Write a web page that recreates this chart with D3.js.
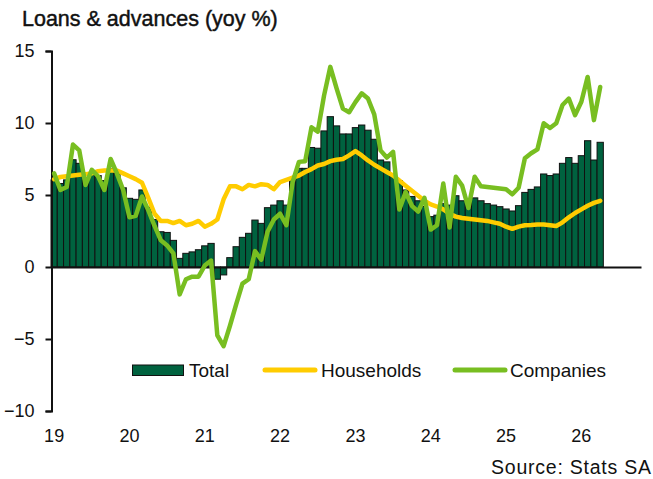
<!DOCTYPE html>
<html>
<head>
<meta charset="utf-8">
<script src="https://cdn.jsdelivr.net/npm/d3@7"></script>
<style>
  html, body { margin: 0; padding: 0; background: #fff; }
  svg { display: block; }
  text { font-family: "Liberation Sans", Arial, sans-serif; fill: #111; }
</style>
</head>
<body>
<svg id="chart" width="653" height="479"></svg>
<script>
// ---- data (monthly, Jan 2019 onward) ----
const startYear = 2019;
const totalSlots = 94; // axis runs to Oct 2026

const total = [
  6.05, 5.8, 6.05, 7.45, 7.2, 6.0, 6.55, 6.35, 6.0, 6.85, 6.5, 5.5,
  4.77, 4.7, 5.35, 4.15, 3.3, 2.45, 2.4, 1.85, 0.6, 0.95, 1.05, 1.2,
  1.47, 1.64, -0.85, -0.55, 0.65, 1.41, 2.06, 2.34, 3.26, 3.03, 4.12, 4.3,
  4.6, 4.3, 6.0, 6.85, 6.85, 8.3, 8.25, 9.45, 10.44, 9.8, 9.24, 9.24,
  9.68, 9.86, 9.5, 8.87, 7.43, 7.3, 6.45, 6.0, 5.35, 4.9, 4.6, 4.2,
  3.5, 3.6, 4.4, 4.3, 4.95, 4.6, 4.4, 4.8, 4.6, 4.4, 4.3, 4.19,
  4.03, 3.89, 4.26, 5.18, 5.39, 5.56, 6.46, 6.35, 6.46, 7.2, 7.6, 7.2,
  7.73, 8.77, 7.43, 8.66
];

const households = [
  6.1, 6.25, 6.3, 6.35, 6.4, 6.45, 6.5, 6.65, 6.7, 6.7, 6.7, 6.5,
  6.3, 6.1, 5.85, 4.8, 3.7, 3.2, 3.2, 3.05, 3.2, 2.9, 3.0, 3.2,
  2.8, 3.0, 3.3, 4.7, 5.6, 5.6, 5.4, 5.7, 5.6, 5.75, 5.7, 5.4,
  5.9, 6.05, 6.2, 6.35, 6.6, 6.8, 7.05, 7.15, 7.35, 7.45, 7.5, 7.75,
  8.05, 7.75, 7.4, 7.1, 6.85, 6.6, 6.35, 6.0, 5.65, 5.3, 4.95, 4.6,
  4.35, 4.2, 4.0, 3.7, 3.5, 3.4, 3.35, 3.3, 3.25, 3.2, 3.1, 3.0,
  2.8, 2.65, 2.8, 2.9, 2.92, 2.95, 2.95, 2.9, 2.85, 3.1, 3.45, 3.75,
  4.0, 4.25, 4.45, 4.6
];

const companies = [
  6.5, 5.35, 5.55, 8.5, 8.1, 5.7, 6.75, 6.3, 5.35, 7.5, 6.5, 5.35,
  3.45, 3.55, 4.9, 3.95, 2.85, 1.85, 1.5, 0.95, -1.9, -0.85, -0.67, -0.67,
  0.1, 0.45, -4.75, -5.5, -4.1, -2.6, -1.15, -0.85, 1.1, 0.5, 2.45, 3.3,
  3.7, 2.9, 5.9, 7.3, 7.35, 9.7, 9.4, 11.9, 13.9, 12.4, 11.0, 10.75,
  11.45, 12.06, 11.7, 10.6, 8.1, 7.6, 8.0, 4.0, 5.2, 4.25, 3.85, 4.8,
  2.6, 2.9, 5.8, 2.75, 6.27, 5.65, 4.1, 6.27, 5.6, 5.55, 5.5, 5.45,
  5.4, 5.05, 5.5, 7.55, 7.9, 8.17, 9.98, 9.65, 9.98, 11.25, 11.7, 10.55,
  11.48, 13.2, 10.2, 12.5
];

const yearLabels = ["19", "20", "21", "22", "23", "24", "25", "26"];
const yTicks = [15, 10, 5, 0, -5, -10];
const seriesNames = ["Total", "Households", "Companies"];
const colors = { total: "#00623F", households: "#FFCC00", companies: "#78BE21" };

// ---- build ----
const months = d3.range(totalSlots).map(i => {
  const y = startYear + Math.floor(i / 12), m = (i % 12) + 1;
  return y + "-" + String(m).padStart(2, "0");
});

const svg = d3.select("#chart");
const x = d3.scaleBand().domain(months).range([51, 641]).paddingInner(0).paddingOuter(0);
const y = d3.scaleLinear().domain([-10, 15]).range([411, 51]);

// title
svg.append("text").attr("x", 22).attr("y", 26)
  .style("font-size", "21.5px")
  .attr("stroke", "#111").attr("stroke-width", 0.45)
  .text("Loans & advances (yoy %)");

// bars
const barData = total.map((v, i) => ({ m: months[i], v }));
svg.append("g").selectAll("rect").data(barData).join("rect")
  .attr("x", d => x(d.m))
  .attr("width", x.bandwidth())
  .attr("y", d => y(Math.max(0, d.v)))
  .attr("height", d => Math.abs(y(d.v) - y(0)))
  .attr("fill", colors.total)
  .attr("stroke", "#111")
  .attr("stroke-width", 1);

// baseline (x axis at zero)
const xAxis = d3.axisBottom(x).tickValues([]).tickSizeOuter(0);
svg.append("g").attr("transform", `translate(0,${y(0)})`).call(xAxis)
  .call(g => g.select(".domain").attr("stroke", "#111").attr("stroke-width", 2));

// year labels
const yearTickVals = yearLabels.map((_, k) => months[k * 12]);
const xLab = d3.axisBottom(x).tickValues(yearTickVals)
  .tickFormat((d, k) => yearLabels[k]).tickSize(0).tickPadding(0);
svg.append("g").attr("transform", "translate(0,429)").call(xLab)
  .call(g => g.select(".domain").remove())
  .call(g => g.selectAll("text").style("font-size", "18px")
    .style("font-family", "'Liberation Sans', Arial, sans-serif").attr("fill", "#111"));

// y axis
const yAxis = d3.axisLeft(y).tickValues(yTicks).tickSize(6).tickSizeOuter(6).tickPadding(11);
svg.append("g").attr("transform", "translate(51.5,0)").call(yAxis)
  .call(g => g.select(".domain").attr("stroke", "#111").attr("stroke-width", 2))
  .call(g => g.selectAll(".tick line").attr("stroke", "#111").attr("stroke-width", 2))
  .call(g => g.selectAll("text").style("font-size", "18px")
    .style("font-family", "'Liberation Sans', Arial, sans-serif").attr("fill", "#111"));

// lines
const line = d3.line()
  .x((d, i) => x(months[i]) + x.bandwidth() / 2)
  .y(d => y(d));

svg.append("path").datum(households)
  .attr("d", line).attr("fill", "none")
  .attr("stroke", colors.households).attr("stroke-width", 4.5)
  .attr("stroke-linejoin", "round").attr("stroke-linecap", "round");

svg.append("path").datum(companies)
  .attr("d", line).attr("fill", "none")
  .attr("stroke", colors.companies).attr("stroke-width", 4.5)
  .attr("stroke-linejoin", "round").attr("stroke-linecap", "round");

// legend
const lg = svg.append("g").attr("transform", "translate(0,370)");
lg.append("rect").attr("x", 132.5).attr("y", -5).attr("width", 51).attr("height", 10.5)
  .attr("fill", colors.total).attr("stroke", "#111").attr("stroke-width", 1);
lg.append("text").attr("x", 189).attr("y", 0).attr("dy", "0.35em")
  .style("font-size", "19px").text(seriesNames[0]);

lg.append("line").attr("x1", 265).attr("x2", 315).attr("y1", 0).attr("y2", 0)
  .attr("stroke", colors.households).attr("stroke-width", 5).attr("stroke-linecap", "round");
lg.append("text").attr("x", 321).attr("y", 0).attr("dy", "0.35em")
  .style("font-size", "19px").text(seriesNames[1]);

lg.append("line").attr("x1", 455).attr("x2", 505).attr("y1", 0).attr("y2", 0)
  .attr("stroke", colors.companies).attr("stroke-width", 5).attr("stroke-linecap", "round");
lg.append("text").attr("x", 510).attr("y", 0).attr("dy", "0.35em")
  .style("font-size", "19px").text(seriesNames[2]);

// source
svg.append("text").attr("x", 651).attr("y", 474).attr("text-anchor", "end")
  .style("font-size", "19.5px")
  .attr("textLength", 160).attr("lengthAdjust", "spacing")
  .text("Source: Stats SA");
</script>
</body>
</html>
